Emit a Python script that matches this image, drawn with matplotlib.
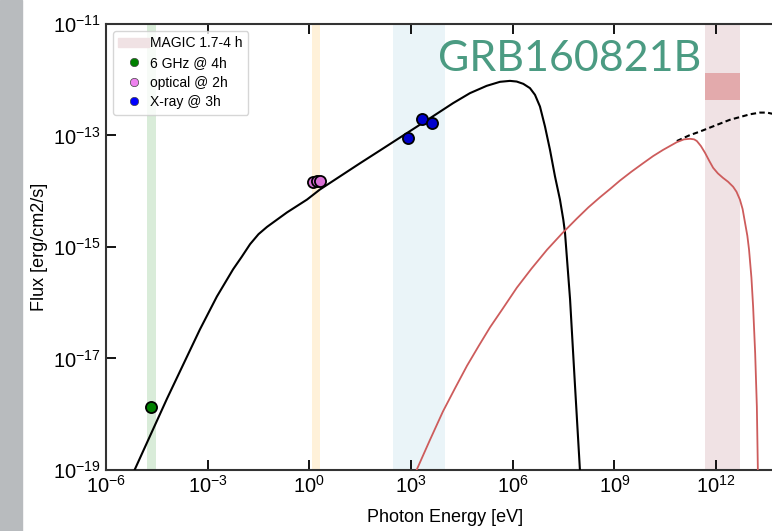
# GRB160821B broadband SED
import numpy as np
import matplotlib.pyplot as plt
from matplotlib.patches import Patch, Rectangle
from matplotlib.lines import Line2D

plt.rcParams['font.family'] = ['Liberation Sans', 'DejaVu Sans']

# observed points (energy in eV, flux in erg/cm2/s)
radio_E = [2.1e-5]
radio_F = [1.35e-18]
opt_E = [1.30, 1.71, 2.06]
opt_F = [1.48e-14, 1.51e-14, 1.55e-14]
xray_E = [794, 2040, 4070]
xray_F = [9.1e-14, 2.0e-13, 1.66e-13]

# synchrotron model (log10 E, log10 F)
syn_logE = [-5.38, -5.15, -4.2, -3.23, -2.73, -2.25, -2.0, -1.75, -1.5, -1.25, -0.66, -0.07, 0.31,
            1.49, 2.08, 3.56, 4.24, 4.737, 5.23, 5.622, 5.917, 6.115, 6.31, 6.507, 6.655,
            6.802, 6.95, 7.097, 7.245, 7.392, 7.49, 7.54, 7.69, 7.83, 7.98, 8.0]
syn_logF = [-19.3, -18.99, -17.72, -16.48, -15.89, -15.40, -15.18, -14.95, -14.77, -14.64, -14.38, -14.15, -13.97,
            -13.50, -13.27, -12.69, -12.42, -12.241, -12.11, -12.038, -12.021, -12.033, -12.074, -12.151, -12.271,
            -12.481, -12.839, -13.256, -13.734, -14.151, -14.509, -14.74, -15.94, -17.43, -18.99, -19.3]

# SSC model with EBL absorption
ssc_logE = [2.96, 3.17, 3.55, 3.94, 4.3, 4.65, 5.0, 5.33, 5.7, 6.12, 6.55, 7.01, 7.45, 7.89, 8.23, 8.57,
            8.87, 9.16, 9.5, 9.84, 10.14, 10.43, 10.84, 11.05, 11.23, 11.35, 11.43, 11.55, 11.67, 11.8,
            11.91, 12.05, 12.2, 12.35, 12.5, 12.6, 12.7, 12.78, 12.85, 12.92, 12.97, 13.04, 13.09,
            13.15, 13.2, 13.23, 13.24]
ssc_logF = [-19.3, -18.99, -18.47, -17.95, -17.53, -17.13, -16.77, -16.44, -16.11, -15.73, -15.39, -15.05,
            -14.76, -14.49, -14.29, -14.11, -13.96, -13.81, -13.65, -13.50, -13.37, -13.26, -13.12, -13.07,
            -13.06, -13.07, -13.10, -13.19, -13.31, -13.46, -13.58, -13.68, -13.76, -13.83, -13.92, -14.01,
            -14.15, -14.32, -14.56, -14.80, -15.05, -15.55, -16.07, -16.9, -17.86, -18.99, -19.3]

# SSC model without EBL absorption
noebl_logE = [10.84, 11.2, 11.52, 12.02, 12.4, 12.7, 13.0, 13.29, 13.5, 13.65, 13.9]
noebl_logF = [-13.10, -13.0, -12.93, -12.81, -12.72, -12.67, -12.62, -12.59, -12.59, -12.61, -12.66]

# instrument bands
radio_band = (1.6e-5, 3.0e-5)
opt_band = (1.19, 2.06)
xray_band = (300, 1e4)
magic_band = (4.7e11, 5.0e12)
magic_flux = (4.4e-13, 1.3e-12)

fig = plt.figure(figsize=(7.72, 5.31), dpi=100)
# grey strip on the left edge of the slide
fig.patches.append(Rectangle((0, 0), 22 / 772, 1, transform=fig.transFigure,
                             color='#b8bbbe', zorder=0))
ax = fig.add_axes([0.1373, 0.1149, 0.8782, 0.840])

# bands
ax.axvspan(*radio_band, color='#d9ecd9', lw=0, zorder=0)
ax.axvspan(*opt_band, color='#fff1d9', lw=0, zorder=0)
ax.axvspan(*xray_band, color='#eaf4f8', lw=0, zorder=0)
ax.axvspan(*magic_band, color='#f0e2e4', lw=0, zorder=0)
ax.fill_between(magic_band, magic_flux[0], magic_flux[1], color='#e3aaac', lw=0, zorder=1)

# model curves
ax.plot(10**np.array(syn_logE), 10**np.array(syn_logF), color='black', lw=1.5, zorder=3)
ax.plot(10**np.array(noebl_logE), 10**np.array(noebl_logF), color='black', lw=1.5,
        ls=(0, (2.6, 1.6)), zorder=2)
ax.plot(10**np.array(ssc_logE), 10**np.array(ssc_logF), color='#cd5c5c', lw=1.3, zorder=3)

# data
ax.plot(radio_E, radio_F, 'o', color='green', mec='black', ms=8, mew=1.3, zorder=5)
ax.plot(opt_E, opt_F, 'o', color='orchid', mec='black', ms=8, mew=1.3, zorder=5)
ax.plot(xray_E, xray_F, 'o', color='mediumblue', mec='black', ms=8, mew=1.3, zorder=5)

# axes
ax.set_xscale('log')
ax.set_yscale('log')
ax.set_xlim(1e-6, 1e14)
ax.set_ylim(1e-19, 1e-11)
ax.set_xticks([1e-6, 1e-3, 1e0, 1e3, 1e6, 1e9, 1e12])
ax.set_yticks([1e-19, 1e-17, 1e-15, 1e-13, 1e-11])
ax.minorticks_off()
ax.tick_params(direction='in', length=7, width=1.3, labelsize=14.5, top=True, right=True)
for s in ax.spines.values():
    s.set_linewidth(1.5)
    s.set_color('#333333')
ax.set_xlabel('Photon Energy [eV]', fontsize=13, labelpad=9)
ax.set_ylabel('Flux [erg/cm2/s]', fontsize=13)

# legend
handles = [
    Patch(color='#f0e2e4', label='MAGIC 1.7-4 h'),
    Line2D([], [], ls='', marker='o', color='green', mec='#444444', mew=0.5, ms=6, label='6 GHz @ 4h'),
    Line2D([], [], ls='', marker='o', color='violet', mec='#444444', mew=0.5, ms=6, label='optical @ 2h'),
    Line2D([], [], ls='', marker='o', color='blue', mec='#444444', mew=0.5, ms=6, label='X-ray @ 3h'),
]
ax.legend(handles=handles, loc='upper left', fontsize=10, handlelength=2.2,
          handletextpad=0.1, labelspacing=0.4)

# title
fig.text(570 / 772, 1 - 71 / 531, 'GRB160821B', fontsize=31, color='#4b9b82',
         family='Lato', ha='center', va='baseline')

plt.savefig('out.png', dpi=100)
